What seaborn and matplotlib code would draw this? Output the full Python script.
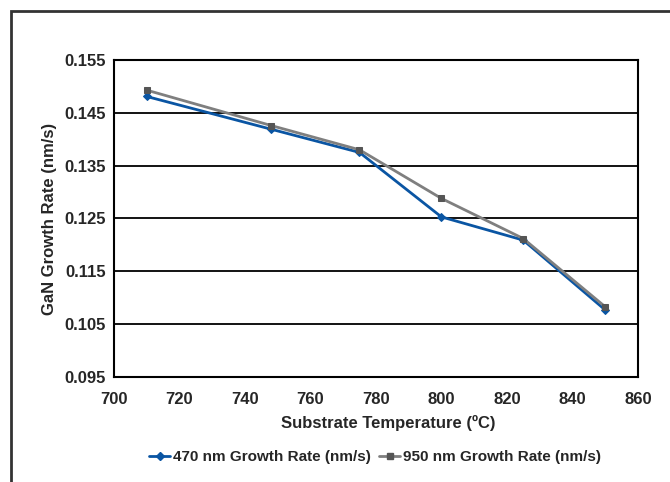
import pandas as pd
import matplotlib.pyplot as plt
import matplotlib.patches as patches
import seaborn as sns

temps = [710, 748, 775, 800, 825, 850]
rate_470 = [0.1481, 0.1419, 0.1375, 0.1253, 0.1209, 0.1077]
rate_950 = [0.1493, 0.1426, 0.1380, 0.1288, 0.1212, 0.1083]
label_470 = '470 nm Growth Rate (nm/s)'
label_950 = '950 nm Growth Rate (nm/s)'

df = pd.concat([
    pd.DataFrame({'temp': temps, 'rate': rate_470, 'series': label_470}),
    pd.DataFrame({'temp': temps, 'rate': rate_950, 'series': label_950}),
])

sns.set_style('white')
plt.rcParams['font.family'] = ['Liberation Sans', 'DejaVu Sans']
plt.rcParams['font.weight'] = 'bold'

fig = plt.figure(figsize=(6.7, 4.82), dpi=100)
ax = fig.add_axes([0.170, 0.218, 0.782, 0.6575])

# outer chart frame (only top/left edges visible in the crop)
fig.patches.append(patches.Rectangle((0.017, -0.05), 1.1, 1.027, transform=fig.transFigure,
                                     fill=False, edgecolor='#333333', linewidth=2))

blue = '#0a55a3'
grey = '#7f7f7f'
sns.lineplot(data=df, x='temp', y='rate', hue='series', style='series',
             palette={label_470: blue, label_950: grey},
             markers={label_470: 'D', label_950: 's'}, dashes=False,
             markersize=5, linewidth=2, ax=ax, legend=False)
for line in ax.get_lines():
    if line.get_marker() == 's':
        line.set_markerfacecolor('#555555')
        line.set_markeredgecolor('#555555')
    else:
        line.set_markersize(4)
        line.set_markeredgecolor(blue)

ax.set_xlim(700, 860)
ax.set_ylim(0.095, 0.155)
ax.set_xticks(range(700, 861, 20))
ax.set_yticks([0.095, 0.105, 0.115, 0.125, 0.135, 0.145, 0.155])
ax.yaxis.grid(True, color='black', linewidth=1.3)
ax.set_axisbelow(True)
for s in ax.spines.values():
    s.set_color('black')
    s.set_linewidth(1.5)
ax.tick_params(axis='both', direction='out', length=4, width=1.2, color='black',
               labelsize=12, pad=2)
ax.tick_params(axis='x', pad=7)
for t in ax.get_xticklabels() + ax.get_yticklabels():
    t.set_fontweight('bold')

ax.set_xlabel('Substrate Temperature (ºC)', fontsize=12, fontweight='bold')
ax.xaxis.set_label_coords(0.523, -0.12)
ax.set_ylabel('GaN Growth Rate (nm/s)', fontsize=12, fontweight='bold', labelpad=5)

h1, = ax.plot([], [], color=blue, marker='D', markersize=4, linewidth=2)
h2, = ax.plot([], [], color=grey, marker='s', markersize=5, linewidth=2,
              markerfacecolor='#555555', markeredgecolor='#555555')
fig.legend([h1, h2], [label_470, label_950], loc='center', bbox_to_anchor=(0.56, 0.052),
           ncol=2, frameon=False, handlelength=1.4, handletextpad=0.2,
           columnspacing=0.5, prop={'weight': 'bold', 'size': 11})

plt.savefig('out.png', dpi=100)
